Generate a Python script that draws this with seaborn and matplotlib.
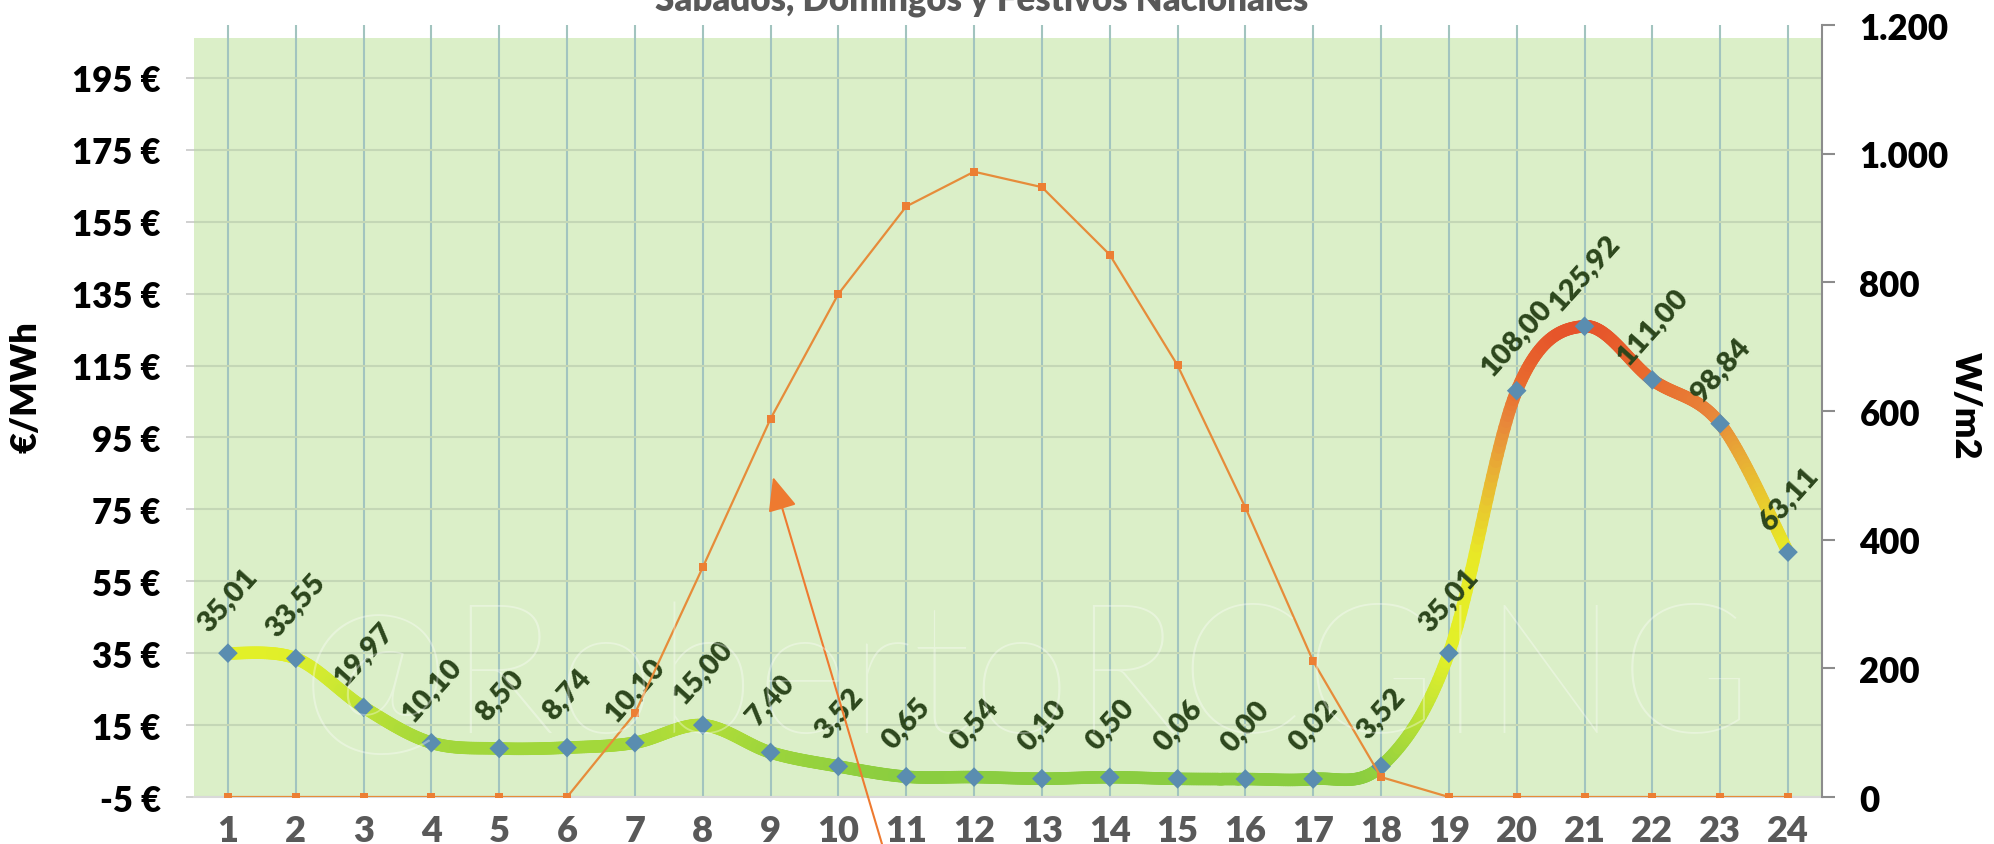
import numpy as np
import matplotlib
matplotlib.use('Agg')
import matplotlib.pyplot as plt
import seaborn as sns
import pandas as pd
from matplotlib.collections import LineCollection
from matplotlib.colors import LinearSegmentedColormap, Normalize
from matplotlib.patches import Rectangle

# data
hours = list(range(1, 25))
price = [35.01, 33.55, 19.97, 10.10, 8.50, 8.74, 10.10, 15.00, 7.40, 3.52,
         0.65, 0.54, 0.10, 0.50, 0.06, 0.00, 0.02, 3.52, 35.01, 108.00,
         125.92, 111.00, 98.84, 63.11]
solar = [0, 0, 0, 0, 0, 0, 130, 357, 588, 782, 918, 972,
         948, 843, 671, 450, 211, 31, 0, 0, 0, 0, 0, 0]
price_ticks = list(range(-5, 196, 20))
solar_ticks = [0, 200, 400, 600, 800, 1000, 1200]
title = 'Sábados, Domingos y Festivos Nacionales'


def smooth_curve(x, y, n=40):
    """Excel-like smoothed line (Catmull-Rom bezier) for drawing."""
    x = np.asarray(x, float)
    y = np.asarray(y, float)
    pts = np.column_stack([x, y])
    ext = np.vstack([pts[0], pts, pts[-1]])
    t = np.linspace(0, 1, n)[:, None]
    out = []
    for i in range(len(pts) - 1):
        p0, p3 = pts[i], pts[i + 1]
        p1 = p0 + (ext[i + 2] - ext[i]) / 6
        p2 = p3 - (ext[i + 3] - ext[i + 1]) / 6
        b = (1 - t) ** 3 * p0 + 3 * (1 - t) ** 2 * t * p1 + 3 * (1 - t) * t ** 2 * p2 + t ** 3 * p3
        out.append(b if i == 0 else b[1:])
    return np.vstack(out)


sns.set_theme(style='white')
plt.rcParams['font.family'] = ['Lato', 'DejaVu Sans']

fig, ax = plt.subplots(figsize=(19.94, 8.45), dpi=100)
fig.subplots_adjust(left=0.0973, right=0.9137, bottom=0.0556, top=0.9692)
ax.set_facecolor('white')
ax.add_patch(Rectangle((0, 0), 1, 0.983, transform=ax.transAxes,
                       facecolor='#dbefc8', edgecolor='none', zorder=0))

# gradient smoothed price line
cmap = LinearSegmentedColormap.from_list('price', [
    (0.0, '#8acd40'), (0.08, '#a6d93a'), (0.2, '#cde832'), (0.28, '#e2f028'),
    (0.5, '#e8ea26'), (0.68, '#e8b434'), (0.8, '#e8863a'), (0.88, '#e86c2e'),
    (1.0, '#e6532a')])
curve = smooth_curve(hours, price)
segs = np.stack([curve[:-1], curve[1:]], axis=1)
vals = (curve[:-1, 1] + curve[1:, 1]) / 2
lc = LineCollection(segs, cmap=cmap, norm=Normalize(0, 126), linewidths=9,
                    capstyle='round', joinstyle='round', zorder=3)
lc.set_array(vals)
ax.add_collection(lc)

df = pd.DataFrame({'hora': hours, 'precio': price, 'solar': solar})
sns.scatterplot(data=df, x='hora', y='precio', marker='D', s=100, color='#5a8db0',
                edgecolor='none', zorder=4, ax=ax)

for h, v in zip(hours, price):
    ax.annotate(f'{v:.2f}'.replace('.', ','), (h, v), xytext=(0, 54),
                textcoords='offset pixels', rotation=48, rotation_mode='anchor',
                ha='center', va='center', fontsize=21, fontweight='heavy',
                color='#2c461c', zorder=5)

ax.set_xlim(0.5, 24.5)
ax.set_ylim(-5, 209.7)
ax.set_xticks(hours)
ax.set_xticklabels([str(h) for h in hours])
ax.set_yticks(price_ticks)
ax.set_yticklabels([f'{t} €' for t in price_ticks])
ax.set_axisbelow(True)
ax.grid(axis='x', color='#a2c4bf', linewidth=1.5)
ax.grid(axis='y', color='#c4d7b6', linewidth=1.5)
ax.tick_params(axis='x', length=0, pad=12, labelsize=26, labelcolor='#595959')
ax.tick_params(axis='y', left=True, length=6, width=1.2, color='#c8c8c8', pad=18,
               labelsize=25, labelcolor='black')
for lab in ax.get_xticklabels() + ax.get_yticklabels():
    lab.set_fontweight('heavy')
for s in ['left', 'top', 'right']:
    ax.spines[s].set_visible(False)
ax.spines['bottom'].set_color('#d9d9d9')
ax.spines['bottom'].set_linewidth(1.5)
ax.set_xlabel('')
ax.set_ylabel('€/MWh', fontsize=26, fontweight='heavy', color='black')
ax.yaxis.set_label_coords(-0.0928, 0.532)

# solar radiation on right axis
ax2 = ax.twinx()
sns.lineplot(data=df, x='hora', y='solar', ax=ax2, color='#e68c3a', linewidth=1.6,
             marker='s', markersize=6, markeredgewidth=0, markerfacecolor='#ec7f34')
ax2.set_ylim(0, 1200)
ax2.set_yticks(solar_ticks)
ax2.set_yticklabels([f'{t:,}'.replace(',', '.') for t in solar_ticks])
ax2.tick_params(axis='y', right=True, length=9, width=1.5, color='#8c8c8c', pad=18,
                labelsize=25, labelcolor='black')
for lab in ax2.get_yticklabels():
    lab.set_fontweight('heavy')
for s in ['left', 'top', 'bottom']:
    ax2.spines[s].set_visible(False)
ax2.spines['right'].set_color('#8c8c8c')
ax2.spines['right'].set_linewidth(1.5)
ax2.set_xlabel('')
ax2.set_ylabel('W/m2', fontsize=26, fontweight='heavy', color='black', rotation=270)
ax2.yaxis.set_label_coords(1.098, 0.508)
ax2.grid(False)

# watermark
fig.text(0.515, 0.191, '@RobertoRCGING', ha='center', va='center', fontsize=131,
         fontweight='light', color='white', alpha=0.35, zorder=10)

# title (cut at the top edge, as in the source image)
fig.text(0.4925, 0.987, title, ha='center', va='baseline', fontsize=25,
         fontweight='heavy', color='#595959')

# arrow
ax2.annotate('', xy=(773 / 1994, 1 - 478 / 845), xycoords='figure fraction',
             xytext=(882 / 1994, 0.0), textcoords='figure fraction',
             arrowprops=dict(arrowstyle='-|>,head_length=0.7,head_width=0.3',
                             color='#ee7a30', lw=1.5, mutation_scale=30,
                             shrinkA=0, shrinkB=0),
             annotation_clip=False)

fig.savefig('out.png', dpi=100)
